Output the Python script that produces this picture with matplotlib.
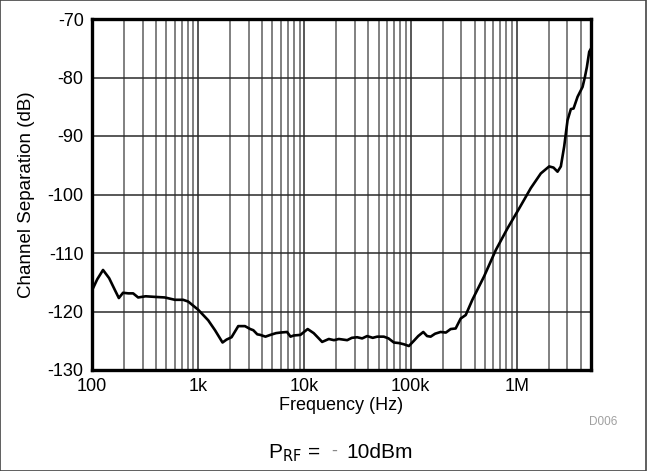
"""Channel separation versus frequency, P_RF = -10 dBm."""

import matplotlib

matplotlib.use("Agg")
import matplotlib.pyplot as plt
from matplotlib.patches import Rectangle
from matplotlib.ticker import FixedLocator, LogLocator, NullFormatter

plt.rcParams["font.family"] = ["Liberation Sans", "DejaVu Sans"]

# Traced curve (Hz, dB)
freq = [
    100, 112, 127, 145, 165, 179, 196, 220, 244, 272, 320, 389, 485, 603,
    721, 805, 1000, 1242, 1440, 1695, 1850, 2061, 2383, 2757, 3092, 3305,
    3600, 3845, 4300, 4780, 5400, 5940, 6870, 7400, 7940, 9170, 10740,
    12240, 13500, 14690, 16980, 19000, 21100, 25300, 28000, 31400, 35000,
    39000, 44000, 48500, 56000, 62000, 69600, 78000, 86400, 96400, 107500,
    118000, 131700, 143000, 154500, 170000, 191700, 215000, 238400, 265800,
    296400, 330700, 381700, 492100, 634400, 817000, 1052000, 1356000,
    1684000, 2018000, 2218000, 2420000, 2600000, 2795000, 3007000, 3230000,
    3426000, 3736000, 4166000, 4383000, 4574000, 4810000, 4950000,
]
sep = [
    -116.4, -114.5, -112.9, -114.3, -116.4, -117.7, -116.8, -116.9, -116.9,
    -117.6, -117.4, -117.5, -117.6, -118.0, -118.0, -118.3, -119.7, -121.5,
    -123.2, -125.3, -124.8, -124.4, -122.5, -122.5, -123.0, -123.2, -123.9,
    -124.0, -124.3, -124.0, -123.7, -123.6, -123.5, -124.3, -124.1, -124.0,
    -123.0, -123.7, -124.5, -125.2, -124.7, -124.9, -124.7, -124.9, -124.5,
    -124.4, -124.6, -124.2, -124.5, -124.3, -124.3, -124.6, -125.3, -125.4,
    -125.6, -125.9, -125.0, -124.2, -123.5, -124.2, -124.3, -123.8, -123.5,
    -123.6, -123.0, -122.9, -121.2, -120.6, -118.0, -114.0, -109.5, -105.8,
    -102.4, -98.9, -96.4, -95.2, -95.4, -96.1, -95.2, -91.8, -87.3, -85.4,
    -85.3, -83.3, -81.6, -79.9, -78.2, -75.6, -75.2,
]

x_ticks = [100, 1e3, 1e4, 1e5, 1e6]
x_labels = ["100", "1k", "10k", "100k", "1M"]
y_ticks = [-130, -120, -110, -100, -90, -80, -70]

W, H = 649, 471
fig = plt.figure(figsize=(W / 100, H / 100), dpi=100)
ax = fig.add_axes([92 / W, 1 - 370 / H, 499 / W, 351 / H])

ax.plot(freq, sep, color="black", lw=1.9, zorder=3, solid_joinstyle="round")

ax.set_xscale("log")
ax.set_xlim(100, 5e6)
ax.set_ylim(-130, -70)
ax.xaxis.set_major_locator(FixedLocator(x_ticks))
ax.set_xticklabels(x_labels)
ax.xaxis.set_minor_locator(LogLocator(base=10, subs=range(2, 10), numticks=20))
ax.xaxis.set_minor_formatter(NullFormatter())
ax.set_yticks(y_ticks)
ax.set_yticklabels([str(v) for v in y_ticks])

ax.grid(True, which="major", color="#2a2a2a", lw=1.1)
ax.grid(True, which="minor", axis="x", color="#5e5e5e", lw=1.1)
ax.tick_params(which="both", length=0, labelsize=13, pad=6)
for s in ax.spines.values():
    s.set_linewidth(2.4)

ax.set_xlabel("Frequency (Hz)", fontsize=13, labelpad=1)
ax.set_ylabel("Channel Separation (dB)", fontsize=13.5, labelpad=9)

fig.text(603 / W, 1 - 422 / H, "D006", fontsize=8.5, color="#a0a0a0",
         ha="center", va="center")
fig.text(320 / W, 1 - 453 / H, r"P$_{\mathrm{RF}}$ =", fontsize=15,
         ha="right", va="center")
fig.text(334 / W, 1 - 451 / H, "-", fontsize=13, color="#888888",
         ha="center", va="center")
fig.text(346 / W, 1 - 453 / H, "10dBm", fontsize=15,
         ha="left", va="center")

fig.add_artist(Rectangle((0, 0), 645.5 / W, 1, transform=fig.transFigure,
                         fill=False, edgecolor="#444444", lw=1.2))

fig.savefig("out.png", dpi=100)
